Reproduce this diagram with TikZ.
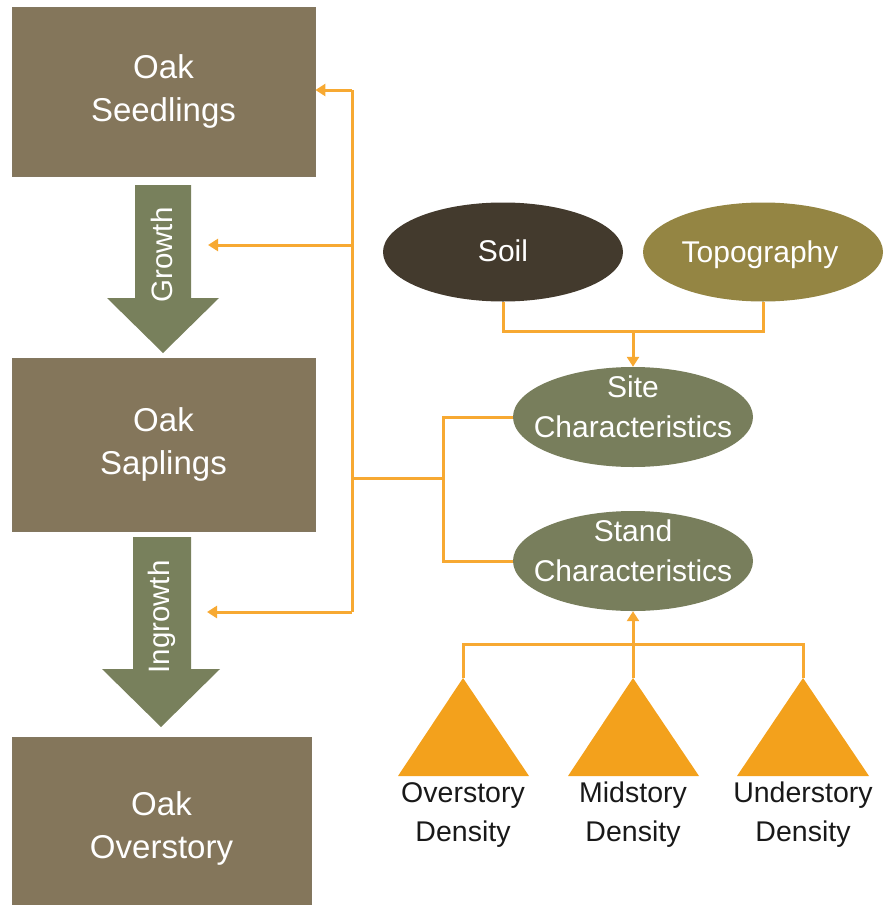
\documentclass[tikz,border=0pt]{standalone}
\usepackage{fontspec}
\setmainfont{Liberation Sans}
\usetikzlibrary{shapes.geometric,arrows.meta}
\definecolor{boxbrown}{HTML}{84765B}
\definecolor{arrowgreen}{HTML}{78805C}
\definecolor{soilbrown}{HTML}{433A2D}
\definecolor{topoolive}{HTML}{948543}
\definecolor{ellgreen}{HTML}{787E5C}
\definecolor{oline}{HTML}{F7A932}
\definecolor{trifill}{HTML}{F3A11C}
\begin{document}
\begin{tikzpicture}[x=1pt,y=-1pt,
  oakbox/.style={fill=boxbrown, draw=boxbrown!85!gray, line width=0.8pt, text=white, inner sep=0pt,
    font=\fontsize{33}{43}\selectfont, align=center},
  ell/.style={ellipse, inner sep=0pt, minimum width=240pt, minimum height=99pt},
  elltxt/.style={text=white, inner sep=0pt, font=\fontsize{30}{40}\selectfont, align=center},
  rottxt/.style={text=white, inner sep=0pt, rotate=90, font=\fontsize{29.5}{36}\selectfont},
  lbl/.style={text=black!90, inner sep=0pt, font=\fontsize{28.5}{39}\selectfont, align=center},
  oconn/.style={draw=oline, line width=3pt},
  otip/.style={-{Triangle[length=10pt,width=12pt]}}
]
\useasboundingbox (0,0) rectangle (884,905);

% boxes
\node[oakbox, minimum width=303pt, minimum height=169pt] (seed) at (163.5,91.5) {Oak\\Seedlings};
\node[oakbox, minimum width=303pt, minimum height=173pt] (sap) at (163.5,444.5) {Oak\\Saplings};
\node[oakbox, minimum width=299pt, minimum height=182pt] (over) at (161.5,828) {Oak\\Overstory};

% block arrows
\fill[arrowgreen] (135,185) -- (191,185) -- (191,298) -- (219,298) -- (163,353) -- (107,298) -- (135,298) -- cycle;
\node[rottxt] (growth) at (162,255) {Growth};
\fill[arrowgreen] (133,537) -- (191,537) -- (191,669) -- (220,669) -- (161,727) -- (102,669) -- (133,669) -- cycle;
\node[rottxt] (ingrowth) at (162,617) {Ingrowth};

% ellipses
\node[ell, fill=soilbrown] (soil) at (503,252) {};
\node[elltxt, anchor=center] (soiltxt) at (503,251) {Soil};
\node[ell, fill=topoolive] (topo) at (763,252) {};
\node[elltxt, anchor=base] (topotxt) at (760,262) {Topography};
\node[ell, fill=ellgreen, minimum height=100pt] (site) at (633,417) {};
\node[elltxt] (sitetxt) at (633,407) {Site\\Characteristics};
\node[ell, fill=ellgreen, minimum height=100pt] (stand) at (633,561) {};
\node[elltxt] (standtxt) at (633,551) {Stand\\Characteristics};

% triangles
\fill[trifill] (463,678) coordinate (t1) -- (398,776) -- (529,776) -- cycle;
\fill[trifill] (633,678) coordinate (t2) -- (568,776) -- (699,776) -- cycle;
\fill[trifill] (803,678) coordinate (t3) -- (737,776) -- (869,776) -- cycle;
\node[lbl, anchor=north] (l1) at (463,782) {Overstory\\Density};
\node[lbl, anchor=north] (l2) at (633,782) {Midstory\\Density};
\node[lbl, anchor=north] (l3) at (803,782) {Understory\\Density};

% orange connectors
\coordinate (ttop) at (352,90);
\coordinate (tgrow) at (352,245);
\coordinate (tmid) at (352,478);
\coordinate (tbot) at (352,612);
\coordinate (growend) at (208,245);
\coordinate (ingrowend) at (207,612);
\coordinate (fork) at (443,478);
\coordinate (forktop) at (443,417);
\coordinate (forkbot) at (443,561);
\coordinate (soiljoin) at (633,331);

\draw[oconn] (ttop) -- (tbot);
\draw[oconn, otip] (ttop) -- (seed.east |- ttop);
\draw[oconn, otip] (tgrow) -- (growend);
\draw[oconn, otip] (tbot) -- (ingrowend);
\draw[oconn] (tmid) -- (fork);
\draw[oconn] (site.west) -- (forktop) -- (forkbot) -- (stand.west);

\draw[oconn] (soil.south) |- (soiljoin) -| (topo.south);
\draw[oconn, otip] (soiljoin) -- (site.north);

\draw[oconn] (t1) -- ++(0,-34) -| (t3);
\draw[oconn, otip] (t2) -- (stand.south);
\end{tikzpicture}
\end{document}
